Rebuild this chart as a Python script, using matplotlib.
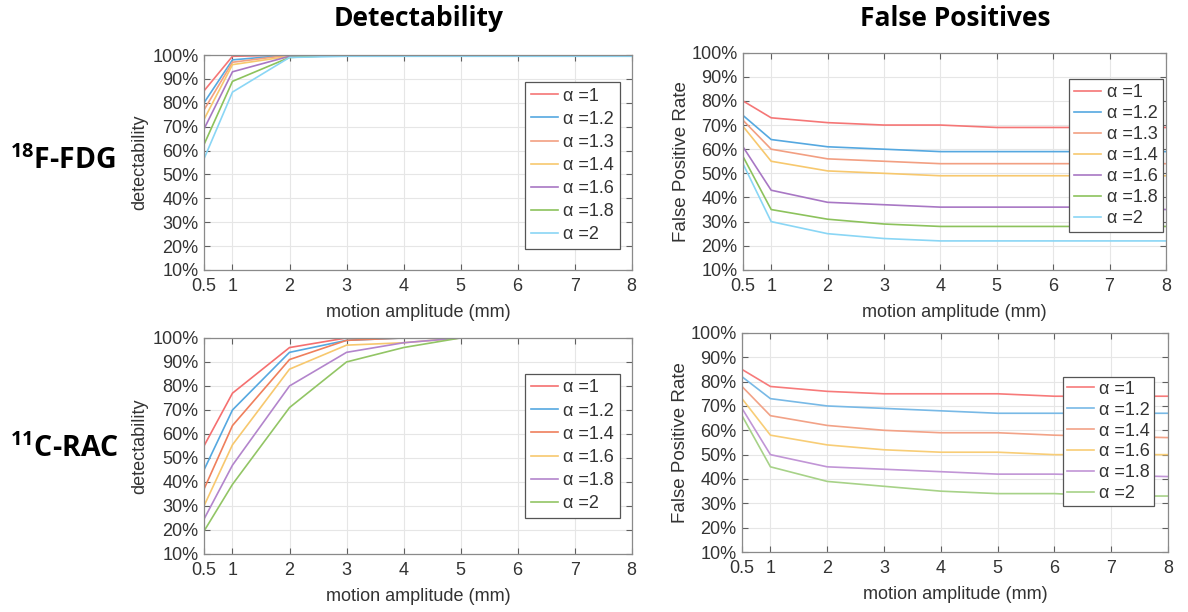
import matplotlib
matplotlib.use("Agg")
import matplotlib.pyplot as plt

plt.rcParams['font.family'] = ['Liberation Sans', 'DejaVu Sans']
plt.rcParams['mathtext.fontset'] = 'custom'
plt.rcParams['mathtext.rm'] = 'Open Sans:bold'

# motion amplitude (mm)
amp = [0.5, 1, 2, 3, 4, 5, 6, 7, 8]
amp_labels = ['0.5', '1', '2', '3', '4', '5', '6', '7', '8']

# 18F-FDG
fdg_alpha = ['1', '1.2', '1.3', '1.4', '1.6', '1.8', '2']
fdg_det = [
    [85, 99.5, 100, 100, 100, 100, 100, 100, 100],
    [80, 98, 100, 100, 100, 100, 100, 100, 100],
    [77, 97, 100, 100, 100, 100, 100, 100, 100],
    [73, 96, 99.5, 100, 100, 100, 100, 100, 100],
    [69, 93, 99.5, 100, 100, 100, 100, 100, 100],
    [62.5, 89, 99, 100, 100, 100, 100, 100, 100],
    [56.5, 84.5, 99, 99.5, 99.5, 99.5, 99.5, 99.5, 99.5],
]
fdg_fp = [
    [80, 73, 71, 70, 70, 69, 69, 69, 69],
    [74, 64, 61, 60, 59, 59, 59, 59, 59],
    [72, 60, 56, 55, 54, 54, 54, 54, 54],
    [69.5, 55, 51, 50, 49, 49, 49, 49, 49],
    [61, 43, 38, 37, 36, 36, 36, 36, 35],
    [57, 35, 31, 29, 28, 28, 28, 28, 28],
    [54, 30, 25, 23, 22, 22, 22, 22, 22],
]

# 11C-RAC
rac_alpha = ['1', '1.2', '1.4', '1.6', '1.8', '2']
rac_det = [
    [55, 77, 96, 100, 100, 100, 100, 100, 100],
    [45, 70, 94, 99, 100, 100, 100, 100, 100],
    [37, 63.5, 91, 99, 100, 100, 100, 100, 100],
    [30, 55.5, 87, 97, 98, 100, 100, 100, 100],
    [24.5, 47, 80, 94, 98, 100, 100, 100, 100],
    [19.5, 39, 71, 90, 96, 100, 100, 100, 100],
]
rac_fp = [
    [85, 78, 76, 75, 75, 75, 74, 74, 74],
    [82, 73, 70, 69, 68, 67, 67, 67, 67],
    [78, 66, 62, 60, 59, 59, 58, 57.5, 57],
    [73, 58, 54, 52, 51, 51, 50, 50, 50],
    [69, 50, 45, 44, 43, 42, 42, 41.5, 41],
    [66, 45, 39, 37, 35, 34, 34, 33, 33],
]

fdg_colors = ['#f57676', '#55a8e0', '#f29f82', '#f7c86e', '#a877c4', '#8cc25c', '#8ad6f5']
rac_det_colors = ['#f56f6f', '#55a8e0', '#ef7f5c', '#f7c86e', '#b385cc', '#92c565']
rac_fp_colors = ['#f77a7a', '#78b9e6', '#f2a287', '#f8cd76', '#c195d6', '#a7d288']


def panel(rect, ys, names, colors, ylabel, ylabel_size, ylabel_pad,
          leg_anchor, leg_pad, leg_space):
    ax = fig.add_axes(rect)
    for y, n, c in zip(ys, names, colors):
        ax.plot(amp, y, color=c, lw=1.2, label='\u03b1 =' + n)
    ax.set_xlim(0.5, 8)
    ax.set_ylim(10, 100)
    ax.set_xticks(amp)
    ax.set_xticklabels(amp_labels)
    ax.set_yticks(range(10, 101, 10))
    ax.set_yticklabels(['%d%%' % v for v in range(10, 101, 10)])
    ax.tick_params(direction='in', length=4, top=True, right=True,
                   labelsize=13, colors='#606060', labelcolor='#333333')
    ax.tick_params(axis='x', pad=6)
    ax.tick_params(axis='y', pad=4)
    ax.grid(True, color='#e6e6e6', lw=0.8)
    for s in ax.spines.values():
        s.set_color('#8a8a8a')
        s.set_linewidth(0.9)
    ax.set_xlabel('motion amplitude (mm)', fontsize=13, color='#333333', labelpad=6)
    ax.set_ylabel(ylabel, fontsize=ylabel_size, color='#333333', labelpad=ylabel_pad)
    leg = ax.legend(loc='upper right', bbox_to_anchor=leg_anchor, borderaxespad=0,
                    fontsize=13, handlelength=1.5, handletextpad=0.3,
                    labelspacing=leg_space, borderpad=leg_pad,
                    fancybox=False, framealpha=1)
    leg.get_frame().set_edgecolor('#555555')
    leg.get_frame().set_linewidth(0.9)
    for t in leg.get_texts():
        t.set_color('#333333')
    return ax


fig = plt.figure(figsize=(11.88, 6.12), dpi=100)

panel([0.1717, 0.559, 0.360, 0.351], fdg_det, fdg_alpha, fdg_colors,
      'detectability', 13, 3, (0.972, 0.874), 0.3, 0.34)
panel([0.6254, 0.559, 0.356, 0.355], fdg_fp, fdg_alpha, fdg_colors,
      'False Positive Rate', 13.5, 1, (0.993, 0.880), 0.3, 0.22)
panel([0.1717, 0.0948, 0.360, 0.353], rac_det, rac_alpha, rac_det_colors,
      'detectability', 13, 3, (0.972, 0.833), 0.3, 0.34)
panel([0.6246, 0.098, 0.3586, 0.358], rac_fp, rac_alpha, rac_fp_colors,
      'False Positive Rate', 13.5, 1, (0.967, 0.799), 0.2, 0.22)

fig.text(0.352, 0.970, 'Detectability', fontsize=19, fontweight='bold',
         family='Open Sans', ha='center', va='center')
fig.text(0.804, 0.970, 'False Positives', fontsize=19, fontweight='bold',
         family='Open Sans', ha='center', va='center')
fig.text(0.008, 0.737, r'$^{18}$F-FDG', fontsize=20.5, fontweight='bold',
         family='Open Sans', ha='left', va='center')
fig.text(0.008, 0.267, r'$^{11}$C-RAC', fontsize=20.5, fontweight='bold',
         family='Open Sans', ha='left', va='center')

fig.savefig('out.png', dpi=100, facecolor='white')
